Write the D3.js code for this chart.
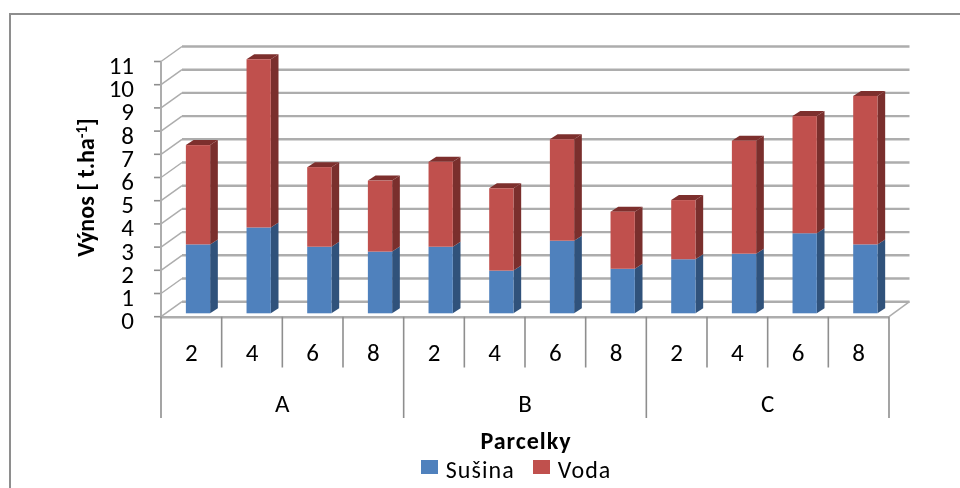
<!DOCTYPE html>
<html><head><meta charset="utf-8">
<script src="https://cdn.jsdelivr.net/npm/d3@7"></script>
<style>html,body{margin:0;background:#fff}svg{display:block;filter:blur(.45px)}text{font-family:Carlito,Lato,"Open Sans",sans-serif;fill:#000}</style>
</head><body><svg id="c" width="960" height="488"></svg>
<script>
const groups=["A","B","C"];
const parcels=["2","4","6","8"];
const susina=[2.97,3.7,2.87,2.66,2.87,1.84,3.13,1.92,2.33,2.57,3.45,2.97];
const voda=[4.28,7.25,3.43,3.06,3.66,3.55,4.37,2.46,2.55,4.87,5.05,6.4];
const yTicks=[0,1,2,3,4,5,6,7,8,9,10,11];
const depth={x:21,y:15}, barDepth={x:7.7,y:5}, barLift=3.4;
const rows=groups.flatMap(g=>parcels.map(p=>({g,p})));
const svg=d3.select("#c");
const slot=d3.scaleBand().domain(d3.range(12)).range([161,889]);
const y=d3.scaleLinear().domain([0,11]).range([316.7,61.5]);
const barX=i=>slot(i)+slot.step()*0.41, barW=slot.step()*0.4;
const F="#8e8e8e",G="#adadad";
svg.append("path").attr("d",d3.line()([[10,495],[10,14],[965,14]])).attr("fill","none").attr("stroke",F).attr("stroke-width",2);
yTicks.forEach(t=>{
 svg.append("line").attr("x1",161+depth.x).attr("x2",909.5).attr("y1",y(t)-depth.y).attr("y2",y(t)-depth.y).attr("stroke",G).attr("stroke-width",2.4);
 svg.append("line").attr("x1",161).attr("x2",161+depth.x).attr("y1",y(t)).attr("y2",y(t)-depth.y).attr("stroke",G).attr("stroke-width",1.5);
 svg.append("line").attr("x1",154).attr("x2",161).attr("y1",y(t)).attr("y2",y(t)).attr("stroke",F).attr("stroke-width",1.6);
 svg.append("text").attr("x",134).attr("y",y(t)+12.5).attr("text-anchor","end").attr("font-size",25).text(t);
});
svg.append("line").attr("x1",161).attr("x2",161).attr("y1",y(11)).attr("y2",y(0)).attr("stroke",G).attr("stroke-width",2);
svg.append("line").attr("x1",889).attr("x2",909.5).attr("y1",y(0)).attr("y2",y(0)-depth.y).attr("stroke",G).attr("stroke-width",1.5);
svg.append("line").attr("x1",161).attr("x2",889).attr("y1",y(0)+.5).attr("y2",y(0)+.5).attr("stroke",G).attr("stroke-width",2.4);
function box(i,from,to,face,side,top,withTop){
 const l=barX(i),r=l+barW,yt=y(to)-barLift,yb=y(from)-barLift;
 const dx=barDepth.x,dy=barDepth.y;
 svg.append("polygon").attr("points",[[r,yb],[r+dx,yb-dy],[r+dx,yt-dy],[r,yt]].join(" ")).attr("fill",side);
 if(withTop)svg.append("polygon").attr("points",[[l,yt],[l+dx,yt-dy],[r+dx,yt-dy],[r,yt]].join(" ")).attr("fill",top);
 svg.append("rect").attr("x",l).attr("y",yt).attr("width",r-l).attr("height",yb-yt).attr("fill",face);
}
rows.forEach((d,i)=>{
 box(i,0,susina[i],"#4f81bd","#30527b","#3a608e",false);
 box(i,susina[i],susina[i]+voda[i],"#c0504d","#7a2f2d","#7d2f2d",true);
});
d3.range(13).forEach(i=>{
 const xp=i===12?889:slot(i);
 svg.append("line").attr("x1",xp).attr("x2",xp).attr("y1",y(0)).attr("y2",i%4===0?418:367.5).attr("stroke",F).attr("stroke-width",1.6);
});
rows.forEach((d,i)=>svg.append("text").attr("x",slot(i)+slot.bandwidth()/2).attr("y",361).attr("text-anchor","middle").attr("font-size",25).text(d.p));
groups.forEach((g,i)=>svg.append("text").attr("x",slot(i*4)+slot.bandwidth()*2).attr("y",412).attr("text-anchor","middle").attr("font-size",25).text(g));
svg.append("text").attr("transform","translate(94,187.5) rotate(-90)").attr("text-anchor","middle").attr("font-size",24).attr("font-weight","bold").html('Výnos [ t.ha<tspan dy="-7" font-size="15">-1</tspan><tspan dy="7">]</tspan>');
svg.append("text").attr("x",526).attr("y",449).attr("text-anchor","middle").attr("font-size",24).attr("font-weight","bold").attr("letter-spacing",1).text("Parcelky");
[["Sušina","#4f81bd",421,445.7],["Voda","#c0504d",533,557.7]].forEach(([t,c,a,b])=>{
 svg.append("rect").attr("x",a).attr("y",460).attr("width",17).attr("height",14).attr("fill",c);
 svg.append("text").attr("x",b).attr("y",478).attr("font-size",24).attr("letter-spacing",1.1).text(t);
});
</script></body></html>
